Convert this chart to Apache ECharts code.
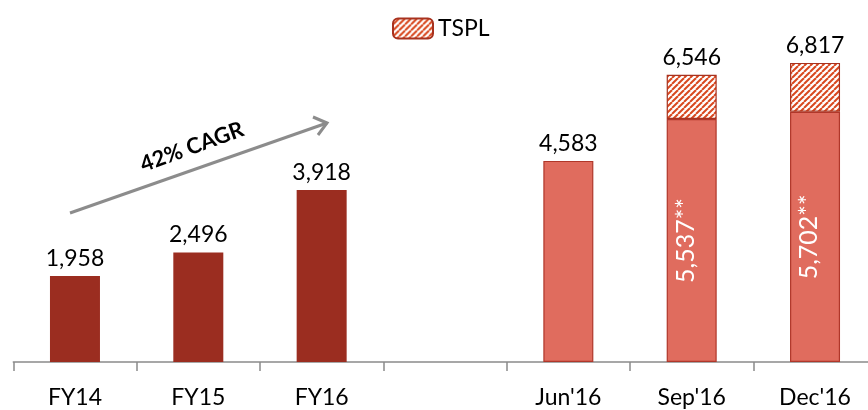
<!DOCTYPE html>
<html><head><meta charset="utf-8">
<script src="https://cdn.jsdelivr.net/npm/echarts@6/dist/echarts.min.js"></script>
<style>html,body{margin:0;padding:0;background:#fff}#c{width:868px;height:410px}</style>
</head><body><div id="c"></div>
<script>
var categories = ['FY14','FY15','FY16','',"Jun'16","Sep'16","Dec'16"];
var annualValues = [1958, 2496, 3918, null, null, null, null];
var quarterBase = [null, null, null, null, 4583, 5537, 5702];
var tsplValues = [null, null, null, null, null, 1009, 1115];
var legendLabel = 'TSPL';
var cagrText = '42% CAGR';

function fmt(v){ return String(v).replace(/\B(?=(\d{3})+(?!\d))/g, ','); }

var pc = document.createElement('canvas');
pc.width = 6; pc.height = 6;
var g = pc.getContext('2d');
g.fillStyle = '#ffffff'; g.fillRect(0,0,6,6);
g.strokeStyle = '#D8481F'; g.lineWidth = 2;
for (var k=-6;k<=12;k+=6){ g.beginPath(); g.moveTo(k,6); g.lineTo(k+6,0); g.stroke(); }
var hatch = {image: pc, repeat: 'repeat'};

var FONT = 'Lato';
var chart = echarts.init(document.getElementById('c'));
var combined = annualValues.map(function(v,i){ return v!=null ? v : quarterBase[i]; });

chart.setOption({
  animation:false,
  textStyle:{fontFamily:FONT},
  grid:{left:13.3, width:863.4, top:0, height:362, outerBoundsMode:'none', containLabel:false},
  legend:{data:[legendLabel], left:387, top:12, itemWidth:40, itemHeight:20, itemGap:10,
    textStyle:{fontSize:23, color:'#000', fontFamily:FONT}},
  xAxis:{type:'category', data:categories,
    axisLine:{lineStyle:{color:'#8a8a8a', width:1.5}},
    axisTick:{show:true, length:9, lineStyle:{color:'#8a8a8a', width:1.5}},
    axisLabel:{fontSize:23, color:'#000', margin:24, fontFamily:FONT}},
  yAxis:{type:'value', min:0, max:8250, show:false, splitLine:{show:false}},
  series:[
    {name:'base', type:'bar', stack:'s', barWidth:50,
     data: combined.map(function(v,i){
       if (v==null) return '-';
       var annual = annualValues[i]!=null;
       var item = {value:v, itemStyle:{color: annual ? '#9B2D20' : '#E06C5E',
         borderColor: annual ? '#9B2D20' : '#B0372A', borderWidth: annual?0:1.2}};
       if (annual || tsplValues[i]==null) {
         item.label = {show:true, position:'top', distance:6, fontSize:23, color:'#000', fontFamily:FONT, formatter:function(p){return fmt(p.value);}};
       } else {
         item.label = {show:true, position:'inside', rotate:90, fontSize:25, color:'#fff', fontFamily:FONT, offset:[0,-6], formatter:function(p){return fmt(p.value)+'**';}};
       }
       return item;
     })},
    {name:legendLabel, type:'bar', stack:'s', barWidth:50,
     itemStyle:{color:hatch, borderColor:'#A8321F', borderWidth:1.2},
     label:{show:true, position:'top', distance:6, fontSize:23, color:'#000', fontFamily:FONT,
       formatter:function(p){ return fmt(p.value + quarterBase[p.dataIndex]); }},
     data: tsplValues.map(function(v){ return v==null ? '-' : v; })}
  ],
  graphic:[
    {type:'line', shape:{x1:70,y1:213,x2:327,y2:123}, style:{stroke:'#8c8c8c', lineWidth:3}},
    {type:'polyline', shape:{points:[[313,117],[327,123],[318,135]]}, style:{stroke:'#8c8c8c', lineWidth:3, fill:null}},
    {type:'text', x:192, y:147, rotation:20*Math.PI/180,
     style:{text:cagrText, font:'bold 22px '+FONT, fill:'#000', align:'center', verticalAlign:'middle'}}
  ]
});
</script></body></html>
